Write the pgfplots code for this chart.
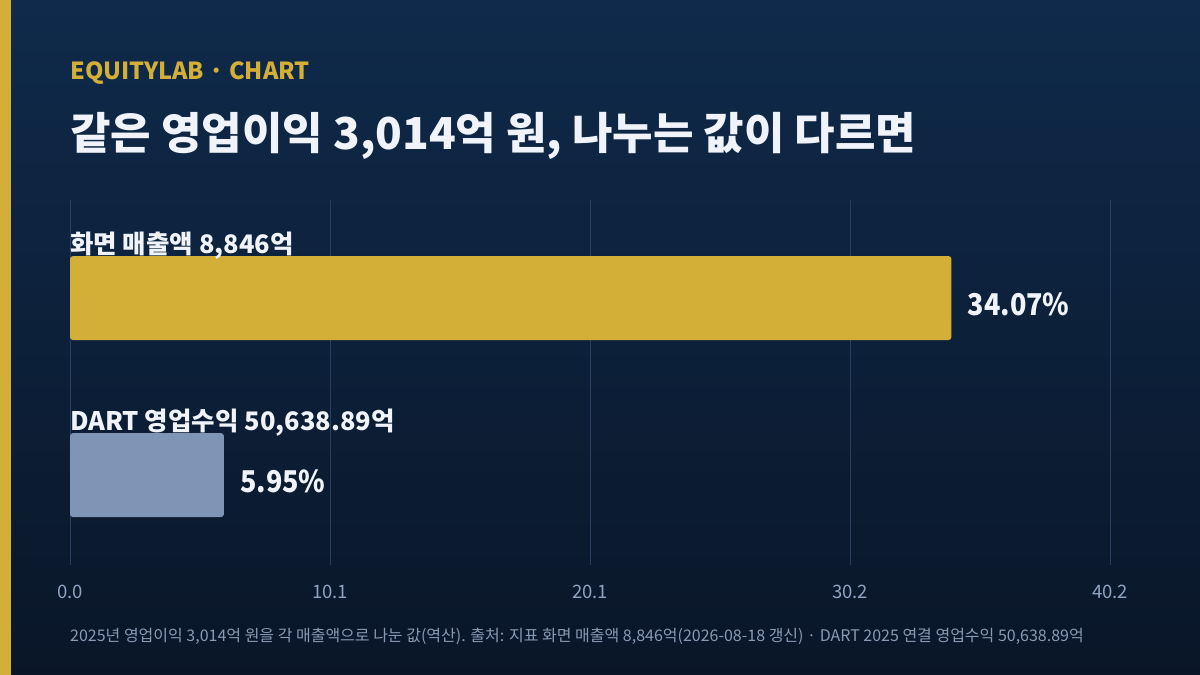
\documentclass[border=0pt]{standalone}
\usepackage{fontspec}
\setmainfont{Noto Sans CJK KR}
\newfontfamily\narrowfont[FakeStretch=0.9]{Noto Sans CJK KR}
\usepackage{pgfplots}
\pgfplotsset{compat=1.18}
\definecolor{bgtop}{HTML}{0F2A4B}
\definecolor{bgbot}{HTML}{0A1628}
\definecolor{gold}{HTML}{D4AF37}
\definecolor{steel}{HTML}{7F95B5}
\definecolor{gridc}{HTML}{2A3F5F}
\definecolor{tickc}{HTML}{8FA3C0}
\definecolor{foot}{HTML}{8A9AB3}
\definecolor{txt}{HTML}{F0F4FA}
\begin{document}
\begin{tikzpicture}[x=1pt,y=1pt]
\shade[top color=bgtop,bottom color=bgbot] (0,0) rectangle (1200,675);
\fill[gold] (0,0) rectangle (11,675);
\node[anchor=base west,inner sep=0,text=gold,font=\fontsize{23.5}{28}\selectfont\bfseries] at (70,595) {EQUITYLAB · CHART};
\node[anchor=base west,inner sep=0,text=txt,font=\fontsize{44}{50}\selectfont\bfseries] at (70,525) {같은 영업이익 3,014억 원, 나누는 값이 다르면};
\begin{axis}[at={(70pt,110pt)},anchor=south west,scale only axis,
  width=1040pt,height=365pt,
  xmin=0,xmax=40.2,ymin=-0.508,ymax=1.554,
  xbar,bar width=84pt,bar shift=0pt,
  axis line style={draw=none},major tick length=0pt,
  ytick=\empty,
  xtick={0,10.05,20.1,30.15,40.2},
  xticklabels={0.0,10.1,20.1,30.2,40.2},
  xticklabel style={anchor=base,yshift=-34pt,text=tickc,font=\fontsize{18.5}{20}\selectfont},
  /pgf/number format/assume math mode=true,
  xmajorgrids,grid style={gridc,line width=1pt},
  clip=false]
\addplot[fill=gold,draw=none,rounded corners=3pt] coordinates {(34.07,1)};
\addplot[fill=steel,draw=none,rounded corners=3pt] coordinates {(5.95,0)};
\node[anchor=base west,inner sep=0,text=txt,font=\fontsize{25.5}{28}\selectfont\bfseries] at (axis cs:0,1) [yshift=45pt] {화면 매출액 8,846억};
\node[anchor=base west,inner sep=0,text=txt,font=\fontsize{25.5}{28}\selectfont\bfseries] at (axis cs:0,0) [yshift=45pt] {DART 영업수익 50,638.89억};
\node[anchor=base west,inner sep=0,text=txt,font=\narrowfont\fontsize{30}{34}\selectfont\bfseries] at (axis cs:34.07,1) [xshift=16pt,yshift=-17.5pt] {34.07\%};
\node[anchor=base west,inner sep=0,text=txt,font=\narrowfont\fontsize{30}{34}\selectfont\bfseries] at (axis cs:5.95,0) [xshift=16pt,yshift=-17pt] {5.95\%};
\end{axis}
\node[anchor=base west,inner sep=0,text=foot,font=\fontsize{16}{18}\selectfont] at (70,33) {2025년 영업이익 3,014억 원을 각 매출액으로 나눈 값(역산). 출처: 지표 화면 매출액 8,846억(2026-08-18 갱신) · DART 2025 연결 영업수익 50,638.89억};
\end{tikzpicture}
\end{document}
